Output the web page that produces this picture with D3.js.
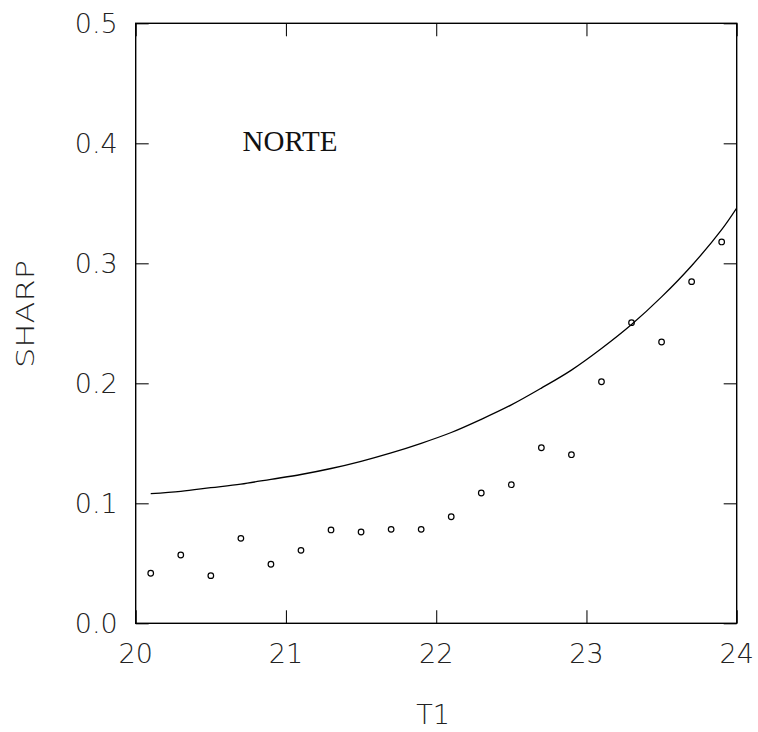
<!DOCTYPE html>
<html>
<head>
<meta charset="utf-8">
<script src="https://cdn.jsdelivr.net/npm/d3@7"></script>
<style>
  html, body { margin: 0; padding: 0; background: #fff; }
  svg { display: block; }
  .lbl { font-family: "DejaVu Sans", sans-serif; font-weight: 200; fill: #222; }
</style>
</head>
<body>
<div id="chart"></div>
<script>
// ---- data ----
const pointX = [20.1, 20.3, 20.5, 20.7, 20.9, 21.1, 21.3, 21.5, 21.7, 21.9,
                22.1, 22.3, 22.5, 22.7, 22.9, 23.1, 23.3, 23.5, 23.7, 23.9];
const pointY = [0.0417, 0.0569, 0.0397, 0.0708, 0.0492, 0.0608, 0.0778, 0.0761, 0.0783, 0.0783,
                0.0888, 0.1086, 0.1155, 0.1463, 0.1405, 0.2013, 0.2505, 0.2344, 0.2847, 0.3178];
const curveX = [20.1, 20.3, 20.5, 20.7, 20.9, 21.1, 21.3, 21.5, 21.7, 21.9,
                22.1, 22.3, 22.5, 22.7, 22.9, 23.1, 23.3, 23.5, 23.7, 23.9, 24.0];
const curveY = [0.108, 0.110, 0.113, 0.116, 0.120, 0.124, 0.129, 0.135, 0.142, 0.150,
                0.159, 0.170, 0.182, 0.196, 0.211, 0.229, 0.249, 0.272, 0.298, 0.328, 0.346];
const xTicks = [20, 21, 22, 23, 24];
const yTicks = [0.0, 0.1, 0.2, 0.3, 0.4, 0.5];
const xTickLabels = ["20", "21", "22", "23", "24"];
const yTickLabels = ["0.0", "0.1", "0.2", "0.3", "0.4", "0.5"];
const xTitle = "T1";
const yTitle = "SHARP";
const panelLabel = "NORTE";

// ---- layout ----
const W = 758, H = 732;
const L = 135.7, R = 736.7, T = 23.3, B = 623.3;
const tickLen = 13;

const svg = d3.select("#chart").append("svg").attr("width", W).attr("height", H);

const x = d3.scaleLinear().domain([20, 24]).range([L, R]);
const y = d3.scaleLinear().domain([0, 0.5]).range([B, T]);

svg.append("clipPath").attr("id", "clip")
  .append("rect").attr("x", L).attr("y", T).attr("width", R - L).attr("height", B - T);

// ticks (inward, all four sides) via d3 axes
const axB = d3.axisBottom(x).tickValues(xTicks).tickSize(tickLen).tickFormat("");
const axT = d3.axisTop(x).tickValues(xTicks).tickSize(tickLen).tickFormat("");
const axL = d3.axisLeft(y).tickValues(yTicks).tickSize(tickLen).tickFormat("");
const axR = d3.axisRight(y).tickValues(yTicks).tickSize(tickLen).tickFormat("");

function styleAxis(g) {
  g.select(".domain").remove();
  g.selectAll(".tick line").attr("stroke", "#111").attr("stroke-width", 1.1);
}
svg.append("g").attr("transform", `translate(0,${B}) scale(1,-1)`).call(axB).call(styleAxis);
svg.append("g").attr("transform", `translate(0,${T}) scale(1,-1)`).call(axT).call(styleAxis);
svg.append("g").attr("transform", `translate(${L},0) scale(-1,1)`).call(axL).call(styleAxis);
svg.append("g").attr("transform", `translate(${R},0) scale(-1,1)`).call(axR).call(styleAxis);

// frame
svg.append("rect").attr("x", L).attr("y", T).attr("width", R - L).attr("height", B - T)
  .attr("fill", "none").attr("stroke", "#000").attr("stroke-width", 1.4);

// tick labels
svg.selectAll(".xl").data(xTicks).enter().append("text")
  .attr("class", "lbl").attr("x", d => x(d)).attr("y", B + 40)
  .attr("text-anchor", "middle").attr("font-size", 27)
  .text((d, i) => xTickLabels[i]);
svg.selectAll(".yl").data(yTicks).enter().append("text")
  .attr("class", "lbl").attr("x", L - 18).attr("y", d => y(d))
  .attr("dy", "0.36em").attr("text-anchor", "end").attr("font-size", 27)
  .text((d, i) => yTickLabels[i]);

// axis titles
svg.append("text").attr("class", "lbl").attr("x", 433).attr("y", 724)
  .attr("text-anchor", "middle").attr("font-size", 27).text(xTitle);
svg.append("text").attr("class", "lbl")
  .attr("transform", "translate(34,314) rotate(-90)")
  .attr("text-anchor", "middle").attr("font-size", 25)
  .attr("textLength", 108).attr("lengthAdjust", "spacingAndGlyphs")
  .text(yTitle);

// panel label
svg.append("text").attr("x", 242.5).attr("y", 150.7)
  .attr("font-family", "'Liberation Serif', 'DejaVu Serif', serif")
  .attr("font-size", 29).attr("fill", "#111").text(panelLabel);

// curve
const line = d3.line().x(d => x(d[0])).y(d => y(d[1])).curve(d3.curveCatmullRom);
svg.append("path").attr("clip-path", "url(#clip)")
  .datum(curveX.map((v, i) => [v, curveY[i]]))
  .attr("d", line).attr("fill", "none").attr("stroke", "#000").attr("stroke-width", 1.3);

// points
svg.selectAll(".pt").data(pointX.map((v, i) => [v, pointY[i]])).enter().append("circle")
  .attr("cx", d => x(d[0])).attr("cy", d => y(d[1])).attr("r", 2.8)
  .attr("fill", "none").attr("stroke", "#000").attr("stroke-width", 1.2);
</script>
</body>
</html>
